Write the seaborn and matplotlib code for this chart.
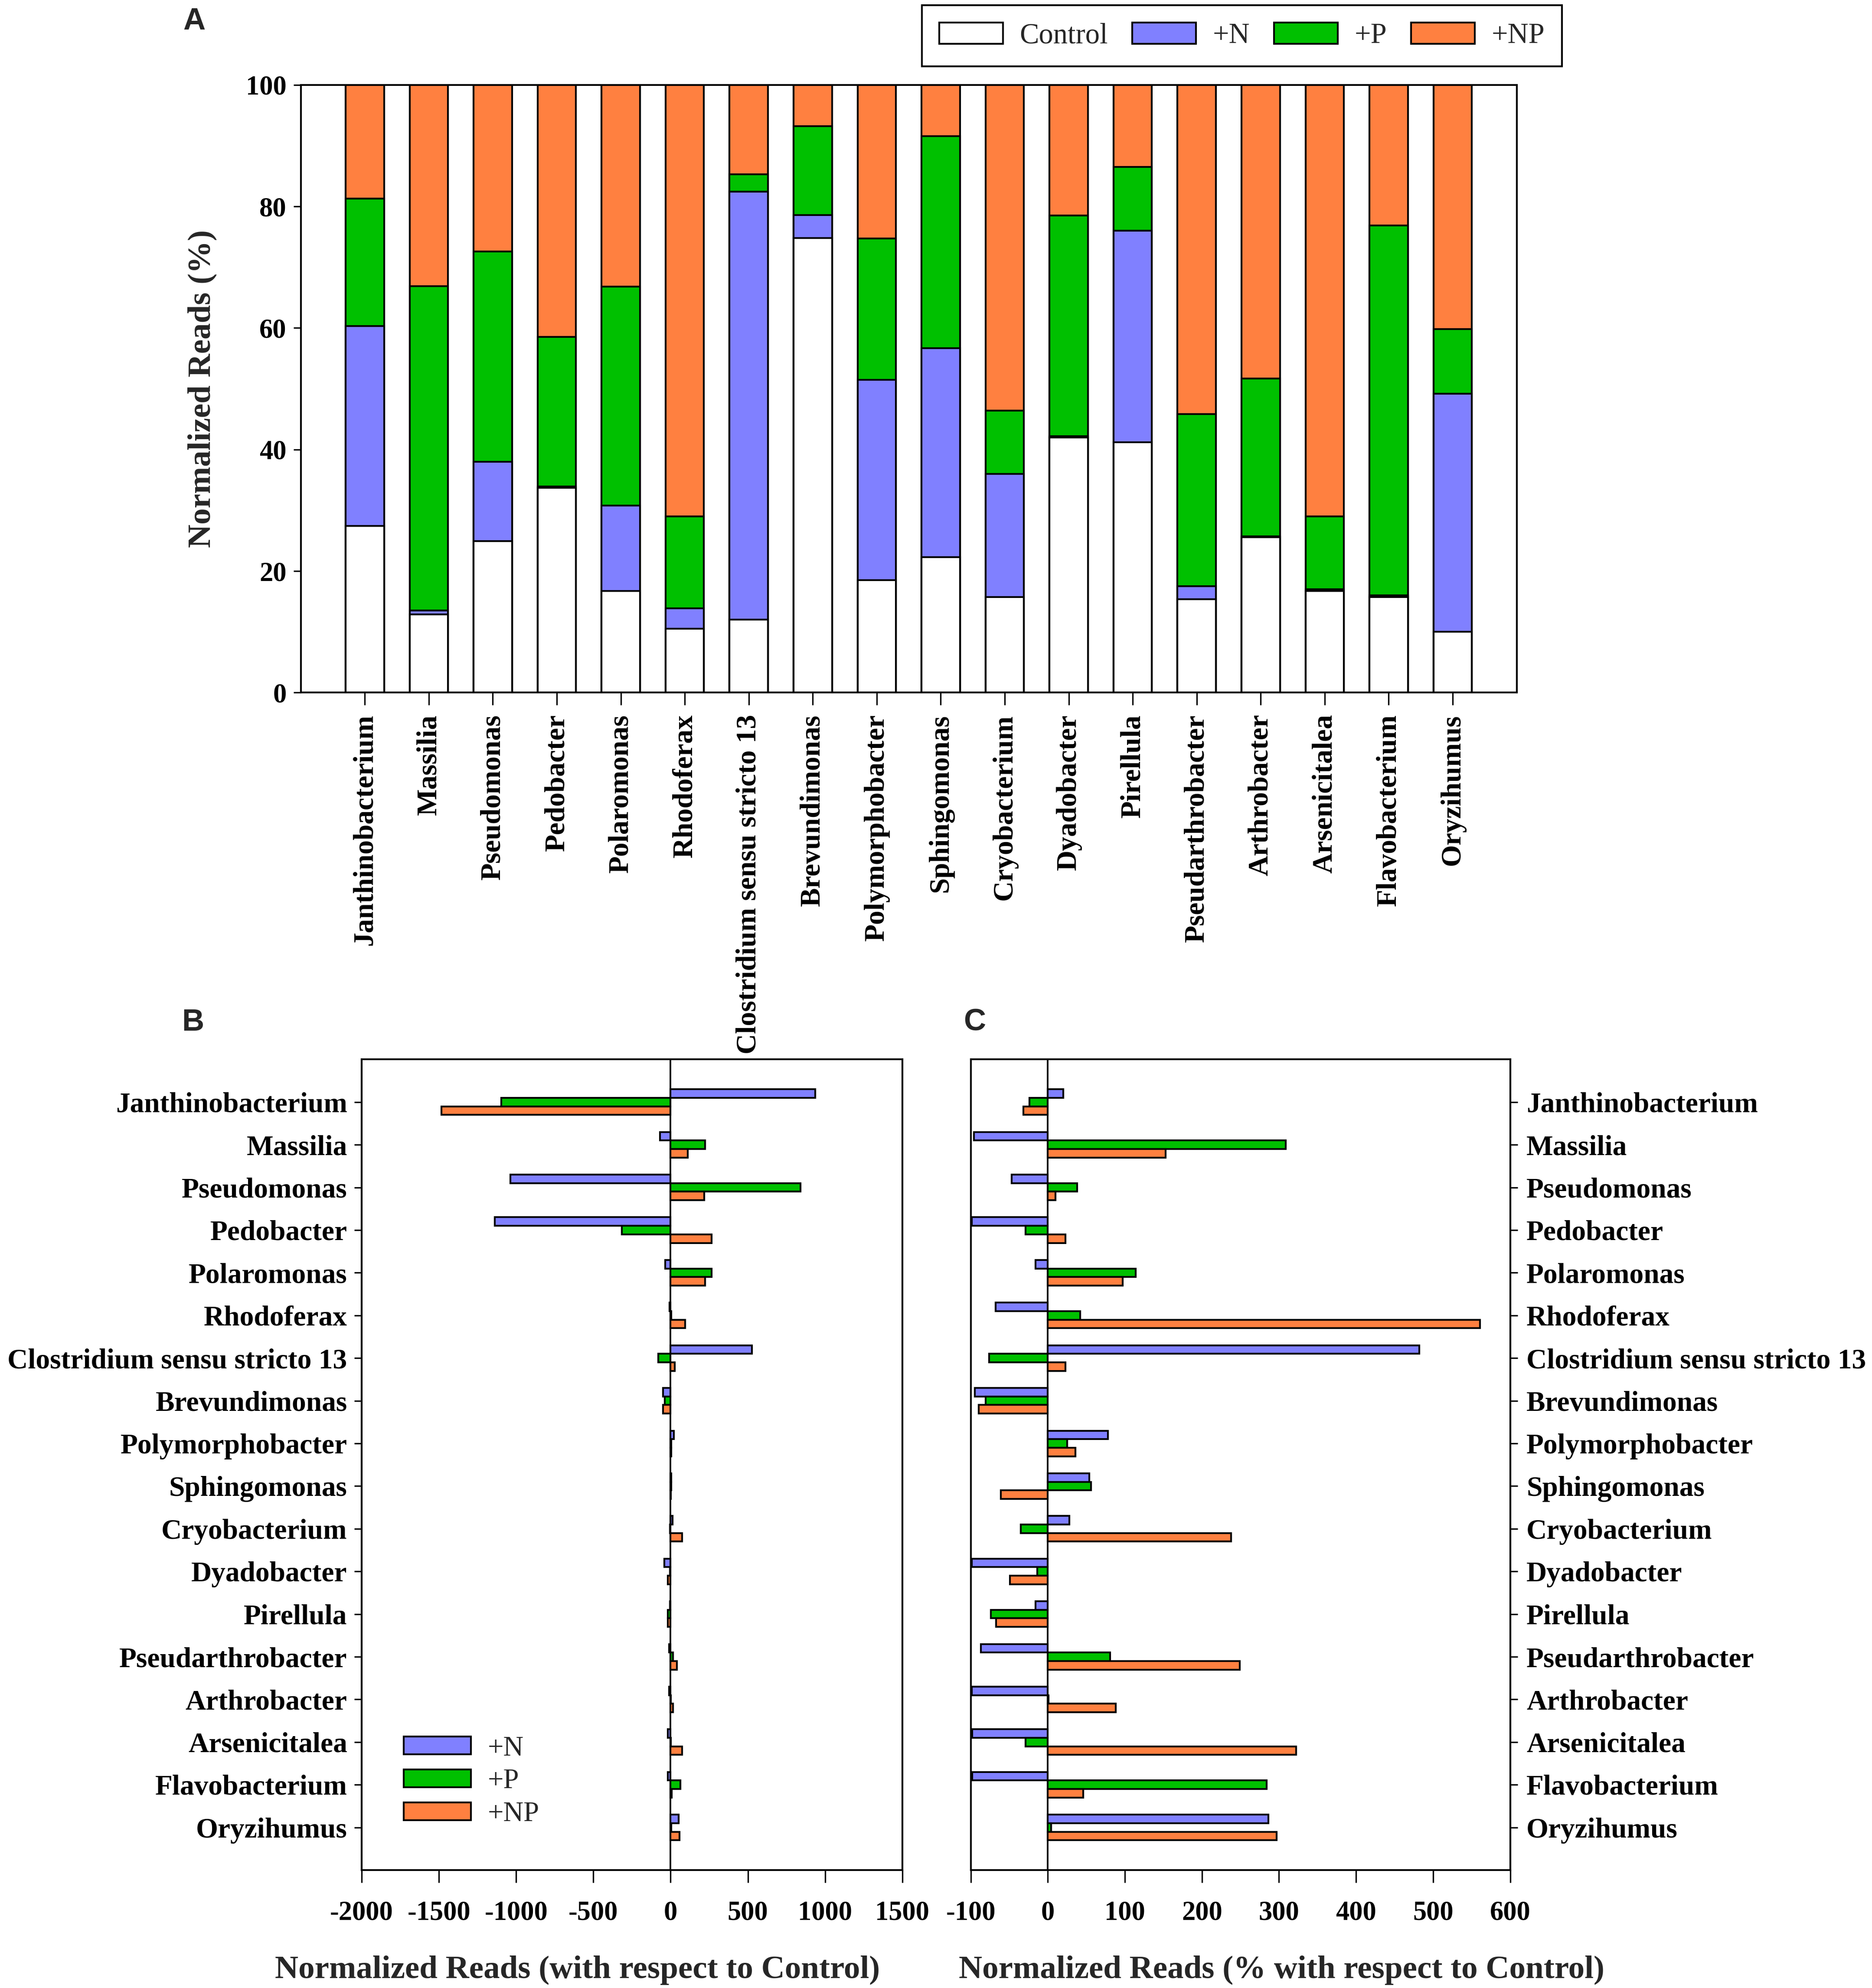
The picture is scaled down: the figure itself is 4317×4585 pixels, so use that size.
import numpy as np
import pandas as pd
import matplotlib
matplotlib.use('Agg')
import matplotlib.pyplot as plt
import seaborn as sns
from matplotlib.patches import Patch

# ---------------- data ----------------
genera = ["Janthinobacterium", "Massilia", "Pseudomonas", "Pedobacter", "Polaromonas",
          "Rhodoferax", "Clostridium sensu stricto 13", "Brevundimonas", "Polymorphobacter",
          "Sphingomonas", "Cryobacterium", "Dyadobacter", "Pirellula", "Pseudarthrobacter",
          "Arthrobacter", "Arsenicitalea", "Flavobacterium", "Oryzihumus"]

treatments = ["Control", "+N", "+P", "+NP"]

# Panel A: share of normalized reads (%) per treatment (stacked)
ctrl_pct = [27.4, 12.9, 24.9, 33.7, 16.7, 10.5, 12.0, 74.8, 18.5, 22.3, 15.7, 42.0, 41.2, 15.4, 25.6, 16.7, 15.7, 10.0]
n_pct = [32.9, 0.6, 13.1, 0.2, 14.1, 3.4, 70.4, 3.8, 33.0, 34.4, 20.3, 0.2, 34.8, 2.1, 0.1, 0.3, 0.3, 39.2]
p_pct = [21.0, 53.4, 34.6, 24.6, 36.0, 15.1, 2.9, 14.6, 23.2, 34.9, 10.4, 36.3, 10.5, 28.3, 26.0, 12.0, 60.9, 10.6]
np_pct = [18.7, 33.1, 27.4, 41.5, 33.2, 71.0, 14.7, 6.8, 25.3, 8.4, 53.6, 21.5, 13.5, 54.2, 48.3, 71.0, 23.1, 40.2]

# Panel B: normalized reads with respect to control
b_n = [937, -68, -1037, -1138, -36, -7, 526, -48, 20, 4, 12, -41, -3, -10, -10, -19, -19, 53]
b_p = [-1097, 223, 840, -317, 264, 5, -80, -39, 3, 3, -5, -3, -17, 15, 2, 2, 63, 3]
b_np = [-1483, 111, 218, 266, 223, 94, 27, -48, 5, 2, 75, -17, -19, 41, 15, 75, 7, 58]

# Panel C: normalized reads (% with respect to control)
c_n = [20, -96, -47, -99, -16, -68, 482, -95, 78, 54, 28, -99, -16, -87, -99, -98, -98, 286]
c_p = [-24, 309, 38, -29, 114, 42, -76, -81, 25, 56, -35, -14, -74, 81, 1, -29, 284, 4]
c_np = [-32, 153, 10, 23, 97, 561, 23, -90, 36, -61, 238, -49, -67, 249, 88, 322, 46, 297]

b_ticks = [-2000, -1500, -1000, -500, 0, 500, 1000, 1500]
c_ticks = [-100, 0, 100, 200, 300, 400, 500, 600]
a_ticks = [0, 20, 40, 60, 80, 100]

# ---------------- style ----------------
sns.set_theme(style="ticks")
SERIF = ["Liberation Serif", "DejaVu Serif"]
plt.rcParams["font.family"] = SERIF
plt.rcParams["axes.linewidth"] = 1.0
plt.rcParams["axes.edgecolor"] = "black"
plt.rcParams["xtick.color"] = "black"
plt.rcParams["ytick.color"] = "black"

colors = {"Control": "#FFFFFF", "+N": "#8080FF", "+P": "#00C000", "+NP": "#FF8040"}
EDGE_LW = 1.0
TICK_FS = 15
CAT_FS_A = 15.7
CAT_FS_BC = 15.7
LABEL_FS = 18

W, H, DPI = 4317, 4585, 300
fig = plt.figure(figsize=(W / DPI, H / DPI), dpi=DPI)
axA = fig.add_axes([0.1607, 0.6516, 0.6495, 0.3057])
axB = fig.add_axes([0.1932, 0.0593, 0.2888, 0.4078])
axC = fig.add_axes([0.5186, 0.0593, 0.2881, 0.4078])

# ---------------- Panel A ----------------
stack = np.vstack([ctrl_pct, n_pct, p_pct, np_pct])
cum = np.cumsum(stack, axis=0)
for i in [3, 2, 1, 0]:
    sns.barplot(x=genera, y=cum[i], color=colors[treatments[i]], saturation=1,
                width=0.6, edgecolor="black", linewidth=EDGE_LW, errorbar=None, ax=axA)
axA.set_xlim(-1, len(genera))
axA.set_ylim(0, 100)
axA.set_yticks(a_ticks)
axA.set_yticklabels([str(t) for t in a_ticks], fontsize=TICK_FS, fontweight="bold", fontfamily=SERIF)
axA.set_xticks(range(len(genera)))
axA.set_xticklabels(genera, rotation=90, fontsize=CAT_FS_A, fontweight="bold", fontfamily=SERIF,
                    ha="center", va="top")
axA.tick_params(axis="x", direction="out", length=7, width=0.8, pad=5)
axA.tick_params(axis="y", direction="out", length=4, width=0.8, pad=4)
axA.set_xlabel("")
axA.set_ylabel("Normalized Reads (%)", fontsize=LABEL_FS, fontweight="bold", fontfamily=SERIF, labelpad=16)

legA = fig.legend(handles=[Patch(facecolor=colors[t], edgecolor="black", linewidth=EDGE_LW, label=t) for t in treatments],
                  loc="center", bbox_to_anchor=(0.6634, 0.982), ncol=4, frameon=True, fancybox=False,
                  edgecolor="black", framealpha=1, prop={"family": SERIF, "size": 16},
                  handlelength=2.2, handleheight=0.75, handletextpad=0.58, columnspacing=0.84, borderpad=0.6)
legA.get_frame().set_linewidth(1.0)


# ---------------- Panels B and C ----------------
def grouped(ax, nvals, pvals, npvals, xlim, xticks):
    df = pd.DataFrame({
        "genus": genera * 3,
        "treatment": ["+N"] * len(genera) + ["+P"] * len(genera) + ["+NP"] * len(genera),
        "value": list(nvals) + list(pvals) + list(npvals),
    })
    sns.barplot(data=df, y="genus", x="value", hue="treatment", hue_order=["+N", "+P", "+NP"],
                palette=[colors["+N"], colors["+P"], colors["+NP"]], orient="h", width=0.6,
                saturation=1, edgecolor="black", linewidth=EDGE_LW, errorbar=None, legend=False, ax=ax)
    ax.axvline(0, color="black", lw=0.9, zorder=5)
    ax.set_xlim(*xlim)
    ax.set_ylim(len(genera), -1)
    ax.set_xticks(xticks)
    ax.set_xticklabels([str(t) for t in xticks], fontsize=TICK_FS, fontweight="bold", fontfamily=SERIF)
    ax.set_yticks(range(len(genera)))
    ax.set_yticklabels(genera, fontsize=CAT_FS_BC, fontweight="bold", fontfamily=SERIF)
    ax.tick_params(axis="x", direction="out", length=7, width=0.8, pad=10)
    ax.tick_params(axis="y", direction="out", length=4, width=0.8, pad=4)
    ax.set_xlabel("")
    ax.set_ylabel("")


grouped(axB, b_n, b_p, b_np, (-2000, 1500), b_ticks)
grouped(axC, c_n, c_p, c_np, (-100, 600), c_ticks)
axC.yaxis.tick_right()
axC.tick_params(axis="y", left=False, right=True, labelleft=False, labelright=True, pad=5)

axB.legend(handles=[Patch(facecolor=colors[t], edgecolor="black", linewidth=EDGE_LW, label=t) for t in ["+N", "+P", "+NP"]],
           loc="lower left", bbox_to_anchor=(0.031, 0.022), frameon=False,
           prop={"family": SERIF, "size": 15.5},
           handlelength=2.4, handleheight=0.6, handletextpad=0.6, labelspacing=0.25)

fig.text(0.3085, 0.0089, "Normalized Reads (with respect to Control)", fontsize=LABEL_FS,
         fontweight="bold", fontfamily=SERIF, ha="center", va="center")
fig.text(0.6847, 0.0089, "Normalized Reads (% with respect to Control)", fontsize=LABEL_FS,
         fontweight="bold", fontfamily=SERIF, ha="center", va="center")

for lab, x, y in [("A", 0.1037, 0.989), ("B", 0.103, 0.4856), ("C", 0.5207, 0.4856)]:
    fig.text(x, y, lab, fontfamily=["Liberation Sans", "DejaVu Sans"], fontweight="bold",
             fontsize=17, ha="center", va="center")

fig.savefig("out.png", dpi=DPI, facecolor="white")
